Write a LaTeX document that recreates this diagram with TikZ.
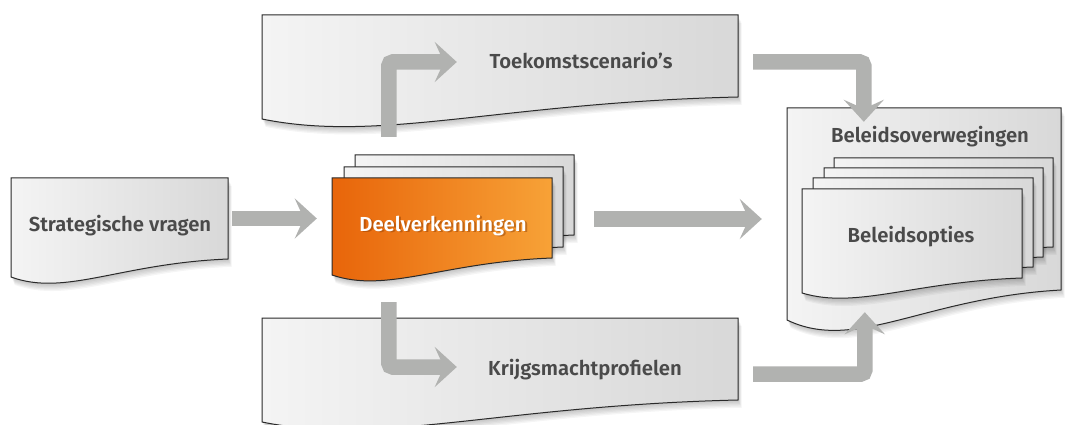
\documentclass[tikz,border=0pt]{standalone}
\usepackage{fontspec}
\setmainfont{Fira Sans}[UprightFont={* SemiBold}]
\usetikzlibrary{arrows.meta,calc,fit}
\definecolor{arrgray}{HTML}{B1B2B0}
\definecolor{txt}{HTML}{4A4A4A}
\definecolor{edge}{HTML}{2A2A2A}
\definecolor{boxl}{HTML}{F4F4F4}
\definecolor{boxr}{HTML}{D8D8D8}
\definecolor{orl}{HTML}{E8650A}
\definecolor{orr}{HTML}{F7A237}
\definecolor{ordark}{HTML}{8A3A00}
\newcommand\docpath[5]{(#1,#2) -- (#3,#2) -- (#3,#4) .. controls ({#1+0.5*(#3-#1)},{#4+0.25*(#5-#4)}) and ({#1+0.25*(#3-#1)},{#5+1.1*(#5-#4)}) .. (#1,#5) -- cycle}
\newcommand\docshape[7]{%
  \foreach \s in {1,...,6}{\fill[black,opacity=0.04,shift={(0.6*\s,1.3*\s)}] \docpath{#3}{#4}{#5}{#6}{#7};}
  \path[#2] \docpath{#3}{#4}{#5}{#6}{#7};
  \path (#3,#4) coordinate (#1-a) (#5,#6) coordinate (#1-b);
  \node[fit=(#1-a)(#1-b),inner sep=0pt] (#1) {};
}
\tikzset{
  graybox/.style={draw=edge, line width=1pt, left color=boxl, right color=boxr},
  orangebox/.style={draw=edge, line width=1pt, left color=orl, right color=orr},
  arr/.style={draw=arrgray, line width=15.5pt, rounded corners=4pt, -{Stealth[length=22pt,width=40pt,inset=9pt]}},
  lbl/.style={anchor=base, text=txt, font=\fontsize{20.3}{23}\selectfont, inner sep=0pt},
}
\begin{document}
\begin{tikzpicture}[x=1pt,y=-1pt]
\fill[white] (0,0) rectangle (1069,425);
\useasboundingbox (0,0) rectangle (1069,425);
% boxes
\docshape{toek}{graybox}{262}{15}{738}{97}{119}
\docshape{krijg}{graybox}{262}{318}{738}{400}{422}
\docshape{strat}{graybox}{11}{178}{228}{259}{277}
\docshape{deelc}{graybox}{355}{155}{574}{235}{252}
\docshape{deelb}{graybox}{344}{167}{563}{247}{264}
\docshape{deel}{orangebox}{332}{178}{552}{258}{275}
\docshape{belov}{graybox}{787}{108}{1061}{290}{320}
\docshape{belopd}{graybox}{834}{158}{1053}{247}{262}
\docshape{belopc}{graybox}{824}{168}{1043}{257}{272}
\docshape{belopb}{graybox}{813}{178}{1033}{267}{282}
\docshape{belop}{graybox}{802}{189}{1022}{278}{293}
% arrows
\draw[arr] ([xshift=4pt]strat.east) -- ([xshift=-15pt]strat.east -| deel.west);
\draw[arr] ([xshift=42pt,yshift=-1pt]deel.east) -- ([xshift=-25pt,yshift=-1pt]deel.east -| belov.west);
\draw[arr] ([shift={(57,-41)}]deel.north west) |- ([shift={(195,6)}]toek.west);
\draw[arr] ([shift={(57,44)}]deel.south west) |- ([shift={(195,8)}]krijg.west);
\draw[arr] ([shift={(15,6)}]toek.east) -| ([shift={(77,14)}]belov.north west);
\draw[arr] ([shift={(15,15)}]krijg.east) -| ([shift={(78,22)}]belov.south west);
% labels
\node[lbl] (stratt) at (120,232) {Strategische vragen};
\node[lbl, text=ordark, opacity=0.45] (deelsh) at (445,233) {Deelverkenningen};
\node[lbl, text=white] (deelt) at (443,231) {Deelverkenningen};
\node[lbl] (toekt) at (581,69) {Toekomstscenario’s};
\node[lbl] (krijgt) at (585,375) {Krijgsmachtprofielen};
\node[lbl] (belovt) at (930,143) {Beleidsoverwegingen};
\node[lbl] (belopt) at (911,242) {Beleidsopties};
\end{tikzpicture}
\end{document}
